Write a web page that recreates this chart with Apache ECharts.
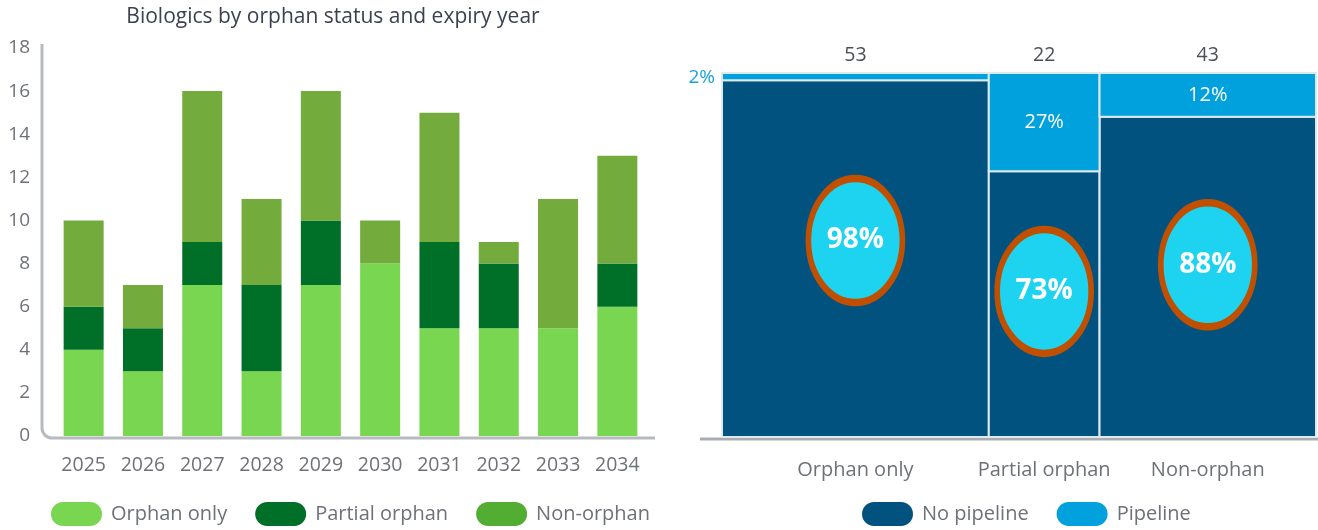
<!DOCTYPE html>
<html>
<head>
<meta charset="utf-8">
<script src="https://cdn.jsdelivr.net/npm/echarts@6/dist/echarts.min.js"></script>
<style>
html,body{margin:0;padding:0;background:#fff;}
#main{width:1318px;height:530px;}
</style>
</head>
<body>
<div id="main"></div>
<script>
// ---- Left chart data ----
const years = ['2025','2026','2027','2028','2029','2030','2031','2032','2033','2034'];
const orphanOnly = [4,3,7,3,7,8,5,5,5,6];
const partialOrphan = [2,2,2,4,3,0,4,3,0,2];
const nonOrphan = [4,2,7,4,6,2,6,1,6,5];
const yTicks = [0,2,4,6,8,10,12,14,16,18];

// ---- Right chart (mekko) data ----
const mekkoCategories = ['Orphan only','Partial orphan','Non-orphan'];
const mekkoTotals = [53,22,43];
const noPipelinePct = [98,73,88];
const pipelinePct = [2,27,12];
const highlightLabels = ['98%','73%','88%'];
const highlightY = [54,40,47.3];

const FONT = '"Open Sans", "Noto Sans", sans-serif';
const GRAY = '#6e7278';

const chart = echarts.init(document.getElementById('main'), null, {renderer:'canvas'});

const totalAll = mekkoTotals.reduce((a,b)=>a+b,0);
let cum = 0;
const noPipeData = [], pipeData = [], ellipseData = [];
mekkoTotals.forEach((t,i)=>{
  const s = cum, e = cum + t;
  noPipeData.push([s, e, noPipelinePct[i], t, i]);
  pipeData.push([s, e, noPipelinePct[i], pipelinePct[i], i]);
  ellipseData.push({value:[(s+e)/2, highlightY[i]], label:{formatter: highlightLabels[i]}});
  cum = e;
});

const ellipsePath = 'path://M50,0 C77.6,0 100,22.4 100,50 C100,77.6 77.6,100 50,100 C22.4,100 0,77.6 0,50 C0,22.4 22.4,0 50,0 Z';
const pill = 'path://M12,0 L39,0 C45.6,0 51,5.4 51,12 C51,18.6 45.6,24 39,24 L12,24 C5.4,24 0,18.6 0,12 C0,5.4 5.4,0 12,0 Z';

const option = {
  backgroundColor:'#fff',
  animation:false,
  title:{
    text:'Biologics by orphan status and expiry year',
    left:328, top:2, textAlign:'center',
    textStyle:{fontFamily:FONT, fontSize:21, fontWeight:'normal', color:'#3c4150'}
  },
  legend:[{
    left:46, top:497, itemWidth:51, itemHeight:24, itemGap:28, icon:pill,
    textStyle:{fontFamily:FONT, fontSize:20, color:GRAY, padding:[0,0,0,4]},
    data:[{name:'Orphan only'},{name:'Partial orphan'},{name:'Non-orphan', itemStyle:{color:'#52ad33'}}]
  },{
    left:857, top:497, itemWidth:51, itemHeight:24, itemGap:28, icon:pill,
    textStyle:{fontFamily:FONT, fontSize:20, color:GRAY, padding:[0,0,0,4]},
    data:['No pipeline','Pipeline']
  }],
  grid:[
    {left:54, right:671, top:48, bottom:94},
    {left:722, right:2, top:73, bottom:93}
  ],
  xAxis:[
    {type:'category', gridIndex:0, data:years,
     axisLine:{show:false}, axisTick:{show:false},
     axisLabel:{fontFamily:FONT, fontSize:19.5, color:GRAY, margin:19}},
    {type:'value', gridIndex:1, min:0, max:totalAll, show:false}
  ],
  yAxis:[
    {type:'value', gridIndex:0, min:0, max:18, interval:2, offset:12,
     axisLine:{show:false}, axisTick:{show:false}, splitLine:{show:false},
     axisLabel:{fontFamily:FONT, fontSize:19, color:GRAY, margin:12,
       formatter:(v)=> yTicks.includes(v) ? String(v) : ''}},
    {type:'value', gridIndex:1, min:0, max:100, show:false}
  ],
  graphic:[
    {type:'line', silent:true, shape:{x1:42, y1:44, x2:42, y2:428},
     style:{stroke:'#b7bbc0', lineWidth:3}},
    {type:'arc', silent:true, shape:{cx:52, cy:428, r:10, startAngle:Math.PI/2, endAngle:Math.PI, clockwise:true},
     style:{stroke:'#b7bbc0', lineWidth:3, fill:null}},
    {type:'line', silent:true, shape:{x1:52, y1:438, x2:655, y2:438},
     style:{stroke:'#b7bbc0', lineWidth:3}},
    {type:'line', silent:true, shape:{x1:700, y1:439, x2:1318, y2:439},
     style:{stroke:'#a9adb2', lineWidth:3}}
  ],
  series:[
    {name:'Orphan only', type:'bar', stack:'a', barWidth:40, data:orphanOnly,
     itemStyle:{color:'#78d651'}},
    {name:'Partial orphan', type:'bar', stack:'a', barWidth:40, data:partialOrphan,
     itemStyle:{color:'#006f27'}},
    {name:'Non-orphan', type:'bar', stack:'a', barWidth:40, data:nonOrphan,
     itemStyle:{color:'#73ab3c'}},
    {name:'No pipeline', type:'custom', xAxisIndex:1, yAxisIndex:1,
     itemStyle:{color:'#02527f'},
     data:noPipeData,
     renderItem:function(params, api){
       const s = api.value(0), e = api.value(1), pct = api.value(2), tot = api.value(3), idx = api.value(4);
       const p0 = api.coord([s,0]), p1 = api.coord([e,pct]), pTop = api.coord([e,100]);
       const cx = (p0[0]+p1[0])/2;
       return {type:'group', children:[
         {type:'rect', shape:{x:p0[0], y:p1[1], width:p1[0]-p0[0], height:p0[1]-p1[1]},
          style:{fill:'#02527f', stroke:'#dfe9f0', lineWidth:2}},
         {type:'text', style:{text:mekkoCategories[idx], x:cx, y:p0[1]+33, align:'center', verticalAlign:'middle',
           fill:GRAY, font:'20px '+FONT}},
         {type:'text', style:{text:String(tot), x:cx, y:pTop[1]-18, align:'center', verticalAlign:'middle',
           fill:'#4b5058', font:'19.5px '+FONT}}
       ]};
     }},
    {name:'Pipeline', type:'custom', xAxisIndex:1, yAxisIndex:1,
     itemStyle:{color:'#00a1dd'},
     data:pipeData,
     renderItem:function(params, api){
       const s = api.value(0), e = api.value(1), base = api.value(2), pct = api.value(3);
       const p0 = api.coord([s,base]), p1 = api.coord([e,base+pct]);
       const h = p0[1]-p1[1];
       const children = [
         {type:'rect', shape:{x:p0[0], y:p1[1], width:p1[0]-p0[0], height:h},
          style:{fill:'#00a1dd', stroke:'#dfe9f0', lineWidth:2}}
       ];
       if (h < 20) {
         children.push({type:'text', style:{text:pct+'%', x:p0[0]-7, y:(p0[1]+p1[1])/2 + 1, align:'right', verticalAlign:'middle',
           fill:'#1aa3d9', font:'19px '+FONT}});
       } else {
         children.push({type:'text', style:{text:pct+'%', x:(p0[0]+p1[0])/2, y:(p0[1]+p1[1])/2, align:'center', verticalAlign:'middle',
           fill:'#ffffff', font:'20px '+FONT}});
       }
       return {type:'group', children};
     }},
    {name:'highlight', type:'scatter', xAxisIndex:1, yAxisIndex:1, silent:true,
     symbol:ellipsePath, symbolSize:[94,124],
     itemStyle:{color:'#1dd3f0', borderColor:'#c05000', borderWidth:6.5, opacity:1},
     label:{show:true, position:'inside', color:'#ffffff', fontFamily:FONT, fontSize:28, fontWeight:'bold'},
     data:ellipseData, z:10}
  ]
};
chart.setOption(option);
</script>
</body>
</html>
